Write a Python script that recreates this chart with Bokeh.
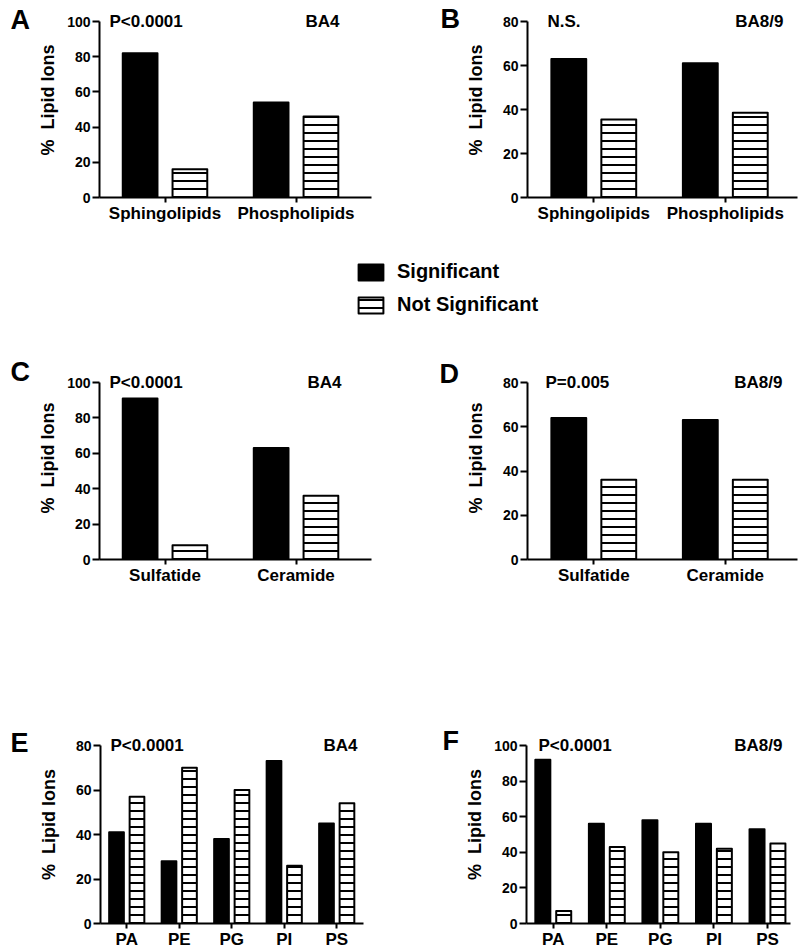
from bokeh.plotting import figure
from bokeh.models import (Range1d, FixedTicker, Label, Legend, LegendItem,
                          ColumnDataSource)
from bokeh.transform import dodge
from bokeh.layouts import column, row
from bokeh.embed import file_html
from bokeh.resources import INLINE

FONT = "Liberation Sans"

# ---------------- data ----------------
a_cats = ["Sphingolipids", "Phospholipids"]
a_sig = [82, 54]
a_ns = [16, 46]

b_cats = ["Sphingolipids", "Phospholipids"]
b_sig = [63, 61]
b_ns = [35.5, 38.5]

c_cats = ["Sulfatide", "Ceramide"]
c_sig = [91, 63]
c_ns = [8, 36]

d_cats = ["Sulfatide", "Ceramide"]
d_sig = [64, 63]
d_ns = [36, 36]

e_cats = ["PA", "PE", "PG", "PI", "PS"]
e_sig = [41, 28, 38, 73, 45]
e_ns = [57, 70, 60, 26, 54]

f_cats = ["PA", "PE", "PG", "PI", "PS"]
f_sig = [92, 56, 58, 56, 53]
f_ns = [7, 43, 40, 42, 45]

yticks_100 = [0, 20, 40, 60, 80, 100]
yticks_80 = [0, 20, 40, 60, 80]

series_names = ["Significant", "Not Significant"]
y_label = "% \u00a0Lipid Ions"


def hatched(kw):
    kw.update(fill_color="white", line_color="black", line_width=2,
              line_join="round", hatch_pattern="-", hatch_color="black",
              hatch_weight=2, hatch_scale=8)
    return kw


def y_end_of(ymax, plot_h, ext_px):
    return ymax * (plot_h + ext_px) / plot_h


def panel(cats, sig, ns, ymax, yticks, ptext, region, *,
          width, height, bl, br, bt, bb, plot_h, ext_px,
          xstart, xend, bar_w, off, ylab_standoff, p_x, r_x):
    p = figure(width=width, height=height,
               x_range=Range1d(xstart, xend),
               y_range=Range1d(0, y_end_of(ymax, plot_h, ext_px)),
               toolbar_location=None, output_backend="svg",
               min_border_left=bl, min_border_right=br,
               min_border_top=bt, min_border_bottom=bb)
    xs = list(range(len(cats)))
    src = ColumnDataSource(dict(x=xs, sig=sig, ns=ns))
    p.vbar(x=dodge("x", -off), top="sig", width=bar_w, source=src,
           fill_color="black", line_color="black", line_width=2,
           line_join="round")
    p.vbar(x=dodge("x", off), top="ns", width=bar_w, source=src,
           **hatched({}))

    p.xgrid.visible = False
    p.ygrid.visible = False
    p.outline_line_color = None
    p.background_fill_color = "white"
    p.border_fill_color = "white"

    xa = p.xaxis[0]
    xa.ticker = FixedTicker(ticks=xs)
    xa.major_label_overrides = {i: c for i, c in enumerate(cats)}
    xa.minor_tick_line_color = None
    xa.major_tick_in = 0
    xa.major_tick_out = 5
    xa.major_tick_line_width = 2
    xa.axis_line_width = 2
    xa.major_label_standoff = 1
    xa.major_label_text_font = FONT
    xa.major_label_text_font_style = "bold"
    xa.major_label_text_font_size = "17px"
    xa.major_label_text_color = "black"

    ya = p.yaxis[0]
    ya.ticker = FixedTicker(ticks=yticks)
    ya.bounds = (0, ymax)
    ya.minor_tick_line_color = None
    ya.major_tick_in = 0
    ya.major_tick_out = 7
    ya.major_tick_line_width = 2
    ya.axis_line_width = 2
    ya.major_label_standoff = 2
    ya.major_label_text_font = FONT
    ya.major_label_text_font_style = "bold"
    ya.major_label_text_font_size = "14px"
    ya.major_label_text_color = "black"
    ya.axis_label = y_label
    ya.axis_label_text_font = FONT
    ya.axis_label_text_font_style = "bold"
    ya.axis_label_text_font_size = "18px"
    ya.axis_label_text_color = "black"
    ya.axis_label_standoff = ylab_standoff

    common = dict(x_units="screen", y=ymax, y_units="data",
                  text_font=FONT, text_font_style="bold",
                  text_color="black", text_baseline="middle",
                  text_font_size="17px")
    p.add_layout(Label(x=p_x, text=ptext, text_align="left", **common))
    p.add_layout(Label(x=r_x, text=region, text_align="right", **common))
    return p


def letter_strip(letter, width, ymax, lx, l_dy, *, height, bt, bb,
                 plot_h, ext_px):
    # Bokeh aligns this strip's frame with the neighbouring panel's frame,
    # so it shares the panel's vertical data scale.
    s = figure(width=width, height=height, x_range=Range1d(0, width),
               y_range=Range1d(0, y_end_of(ymax, plot_h, ext_px)),
               toolbar_location=None, output_backend="svg",
               x_axis_type=None, y_axis_type=None,
               min_border_left=0, min_border_right=0,
               min_border_top=bt, min_border_bottom=bb)
    s.outline_line_color = None
    s.xgrid.visible = False
    s.ygrid.visible = False
    s.add_layout(Label(x=lx, y=ymax, y_offset=l_dy,
                       text=letter, text_font=FONT, text_font_style="bold",
                       text_font_size="27px", text_color="black",
                       text_baseline="middle", text_align="left"))
    return s


# geometry (page pixels)
LW, RW = 35, 62          # letter strip widths
H1, HL, H2, H3 = 236, 94, 268, 354

geoA = dict(width=400 - LW, bl=97 - LW, br=29, xstart=-0.5, xend=1.576,
            bar_w=0.265, off=0.19)
geoB = dict(width=400 - RW, bl=524 - 400 - RW, br=3, xstart=-0.504,
            xend=1.549, bar_w=0.265, off=0.19)
row1 = dict(height=H1, bt=2, bb=39, plot_h=176, ext_px=19)
row2 = dict(height=H2, bt=26, bb=39, plot_h=177, ext_px=26)
row3 = dict(height=H3, bt=127, bb=29, plot_h=178, ext_px=20)

pA = panel(a_cats, a_sig, a_ns, 100, yticks_100, "P<0.0001", "BA4",
           ylab_standoff=6, p_x=10, r_x=240, **geoA, **row1)
pB = panel(b_cats, b_sig, b_ns, 80, yticks_80, "N.S.", "BA8/9",
           ylab_standoff=14, p_x=20, r_x=256, **geoB, **row1)

# legend strip
leg = figure(width=800, height=HL, x_range=Range1d(0, 1), y_range=Range1d(0, 1),
             toolbar_location=None, output_backend="svg",
             x_axis_type=None, y_axis_type=None, min_border=0)
leg.outline_line_color = None
leg_src = ColumnDataSource(dict(x=[0.5], top=[0.5]))
r_sig = leg.vbar(x="x", top="top", width=0.1, source=leg_src,
                 fill_color="black", line_color="black", line_width=2,
                 line_join="round", visible=False)
r_ns = leg.vbar(x="x", top="top", width=0.1, source=leg_src,
                **hatched({}), visible=False)
legend = Legend(items=[LegendItem(label=series_names[0], renderers=[r_sig]),
                       LegendItem(label=series_names[1], renderers=[r_ns])],
                location=(355, 14), orientation="vertical",
                border_line_color=None, background_fill_alpha=0,
                padding=0, margin=0, spacing=10,
                glyph_width=31, glyph_height=20, label_height=22,
                label_standoff=11, label_text_font=FONT,
                label_text_font_style="bold", label_text_font_size="20px",
                label_text_color="black")
leg.add_layout(legend)

pC = panel(c_cats, c_sig, c_ns, 100, yticks_100, "P<0.0001", "BA4",
           ylab_standoff=6, p_x=10, r_x=242, **geoA, **row2)
pD = panel(d_cats, d_sig, d_ns, 80, yticks_80, "P=0.005", "BA8/9",
           ylab_standoff=14, p_x=18, r_x=255, **geoB, **row2)

geoE = dict(geoA, br=37, xend=4.51, bar_w=0.28, off=0.195)
geoF = dict(geoB, br=10, xstart=-0.5, xend=4.43, bar_w=0.28, off=0.195)
pE = panel(e_cats, e_sig, e_ns, 80, yticks_80, "P<0.0001", "BA4",
           ylab_standoff=14, p_x=10, r_x=257, **geoE, **row3)
pF = panel(f_cats, f_sig, f_ns, 100, yticks_100, "P<0.0001", "BA8/9",
           ylab_standoff=6, p_x=12, r_x=256, **geoF, **row3)

sA = letter_strip("A", LW, 100, 10, 2, **row1)
sB = letter_strip("B", RW, 80, 40, 2.5, **row1)
sC = letter_strip("C", LW, 100, 10, 11, **row2)
sD = letter_strip("D", RW, 80, 39, 9, **row2)
sE = letter_strip("E", LW, 80, 10, 2.5, **row3)
sF = letter_strip("F", RW, 100, 42, 5, **row3)

layout = column(row(sA, pA, sB, pB), leg, row(sC, pC, sD, pD),
                row(sE, pE, sF, pF))

open("out.html", "w").write(file_html(layout, INLINE))
